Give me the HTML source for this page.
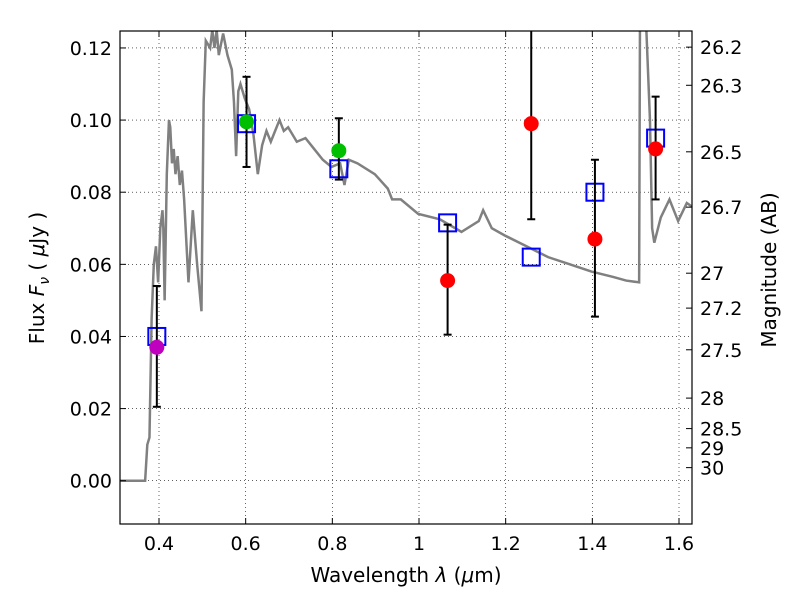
<!DOCTYPE html>
<html><head><meta charset="utf-8"><style>
body{margin:0;background:#fff}
svg text{font-family:"DejaVu Sans","Liberation Sans",sans-serif;fill:#000}
</style></head><body>
<svg id="chart" width="800" height="600" viewBox="0 0 800 600" xmlns="http://www.w3.org/2000/svg">
<rect width="800" height="600" fill="#fff"/>
<g id="grid"></g>
<g id="spec"></g>
<g id="marks"></g>
<rect x="120" y="31" width="572" height="493" fill="none" stroke="#000" stroke-width="1.2"/>
<g id="axes"></g>
<text x="406" y="582" font-size="20" text-anchor="middle">Wavelength  <tspan font-style="italic">λ</tspan> (<tspan font-style="italic">μ</tspan>m)</text>
<text transform="translate(44,278) rotate(-90)" font-size="20" text-anchor="middle">Flux  <tspan font-style="italic">F</tspan><tspan font-style="italic" font-size="14" dy="5">ν</tspan><tspan dy="-5">  ( </tspan><tspan font-style="italic">μ</tspan>Jy )</text>
<text transform="translate(776,270) rotate(-90)" font-size="20" text-anchor="middle">Magnitude (AB)</text>
</svg>
<script>
const xTicks=[0.4,0.6,0.8,1.0,1.2,1.4,1.6];
const xTickLabels=["0.4","0.6","0.8","1","1.2","1.4","1.6"];
const yTicks=[0,0.02,0.04,0.06,0.08,0.1,0.12];
const yTickLabels=["0.00","0.02","0.04","0.06","0.08","0.10","0.12"];
const magTicks=[26.2,26.3,26.5,26.7,27,27.2,27.5,28,28.5,29,30];
const magLabels=["26.2","26.3","26.5","26.7","27","27.2","27.5","28","28.5","29","30"];
const specWave=[0.31,0.368,0.373,0.378,0.383,0.388,0.393,0.398,0.403,0.408,0.41,0.413,0.418,0.423,0.426,0.43,0.434,0.438,0.443,0.448,0.453,0.458,0.468,0.478,0.488,0.498,0.503,0.508,0.518,0.523,0.528,0.533,0.538,0.548,0.558,0.568,0.573,0.578,0.583,0.588,0.598,0.608,0.618,0.628,0.638,0.648,0.658,0.668,0.678,0.688,0.698,0.718,0.738,0.758,0.778,0.798,0.818,0.828,0.838,0.858,0.898,0.928,0.938,0.958,0.998,1.048,1.098,1.138,1.148,1.168,1.198,1.248,1.298,1.348,1.398,1.448,1.478,1.508,1.51,1.523,1.533,1.538,1.543,1.558,1.578,1.598,1.618,1.63];
const specFlux=[0,0,0.01,0.012,0.045,0.06,0.065,0.055,0.07,0.075,0.07,0.05,0.085,0.1,0.098,0.088,0.092,0.085,0.09,0.082,0.086,0.078,0.055,0.075,0.06,0.047,0.105,0.122,0.12,0.125,0.12,0.125,0.118,0.124,0.118,0.114,0.105,0.09,0.108,0.11,0.106,0.103,0.096,0.085,0.093,0.097,0.094,0.097,0.1,0.097,0.098,0.094,0.095,0.092,0.089,0.087,0.088,0.082,0.089,0.088,0.085,0.081,0.078,0.078,0.074,0.0725,0.069,0.072,0.075,0.07,0.068,0.065,0.062,0.06,0.058,0.0565,0.0555,0.055,0.13,0.13,0.1,0.07,0.066,0.073,0.078,0.072,0.077,0.076];
const obsWave=[0.395,0.602,0.815,1.066,1.259,1.406,1.546];
const obsFlux=[0.037,0.0995,0.0915,0.0555,0.099,0.067,0.092];
const obsColor=["#bf00bf","#00bf00","#00bf00","#ff0000","#ff0000","#ff0000","#ff0000"];
const errLow=[0.0205,0.087,0.0835,0.0405,0.0725,0.0455,0.078];
const errHigh=[0.054,0.112,0.1005,0.071,0.13,0.089,0.1065];
const modelFlux=[0.040,0.099,0.0865,0.0715,0.062,0.080,0.095];

const NS="http://www.w3.org/2000/svg";
const L=120,R=692,T=31,B=524,xmin=0.31,xmax=1.63,ymin=-0.012,ymax=0.1247;
const X=v=>L+(v-xmin)/(xmax-xmin)*(R-L);
const Y=v=>B-(v-ymin)/(ymax-ymin)*(B-T);
function mk(tag,attrs,parent){const e=document.createElementNS(NS,tag);for(const k in attrs)e.setAttribute(k,attrs[k]);parent.appendChild(e);return e;}
const grid=document.getElementById('grid'),axes=document.getElementById('axes'),spec=document.getElementById('spec'),marks=document.getElementById('marks');
xTicks.forEach((t,i)=>{const x=X(t);
 const g=mk('line',{x1:x,x2:x,y1:T,y2:B,stroke:'#000','stroke-width':0.6,'stroke-dasharray':'1,3'},grid);
 
 
 mk('line',{x1:x,x2:x,y1:B,y2:B-6,stroke:'#000'},axes);
 mk('line',{x1:x,x2:x,y1:T,y2:T+6,stroke:'#000'},axes);
 const tx=mk('text',{x:x,y:B+26,'font-size':19,'text-anchor':'middle'},axes);tx.textContent=xTickLabels[i];
 
 
});
yTicks.forEach((t,i)=>{const y=Y(t);
 const g=mk('line',{x1:L,x2:R,y1:y,y2:y,stroke:'#000','stroke-width':0.6,'stroke-dasharray':'1,3'},grid);
 
 
 mk('line',{x1:L,x2:L+6,y1:y,y2:y,stroke:'#000'},axes);
 const tx=mk('text',{x:L-8,y:y+7,'font-size':19,'text-anchor':'end'},axes);tx.textContent=yTickLabels[i];
 
 
});
magTicks.forEach((m,i)=>{const y=Y(Math.pow(10,(23.9-m)/2.5));
 mk('line',{x1:R-6,x2:R,y1:y,y2:y,stroke:'#000'},axes);
 const tx=mk('text',{x:R+8,y:y+7,'font-size':19},axes);tx.textContent=magLabels[i];
 
 
});
const pl=mk('polyline',{points:specWave.map((w,i)=>X(w)+','+Y(Math.min(specFlux[i],ymax+0.01))).join(' '),fill:'none',stroke:'#808080','stroke-width':2.5},spec);


const clip=mk('clipPath',{id:'pc'},document.getElementById('chart'));mk('rect',{x:L,y:T,width:R-L,height:B-T},clip);
spec.setAttribute('clip-path','url(#pc)');marks.setAttribute('clip-path','url(#pc)');
obsWave.forEach((w,i)=>{const x=X(w);
 const s=mk('rect',{x:x-8.5,y:Y(modelFlux[i])-8.5,width:17,height:17,fill:'none',stroke:'#0000ff','stroke-width':2},marks);
 
 
 const e=mk('line',{x1:x,x2:x,y1:Y(errLow[i]),y2:Y(errHigh[i]),stroke:'#000','stroke-width':2},marks);
 
 
 [errLow[i],errHigh[i]].forEach(v=>mk('line',{x1:x-4,x2:x+4,y1:Y(v),y2:Y(v),stroke:'#000','stroke-width':2},marks));
 const c=mk('circle',{cx:x,cy:Y(obsFlux[i]),r:7.5,fill:obsColor[i]},marks);
 
 
});
</script>
</body></html>
